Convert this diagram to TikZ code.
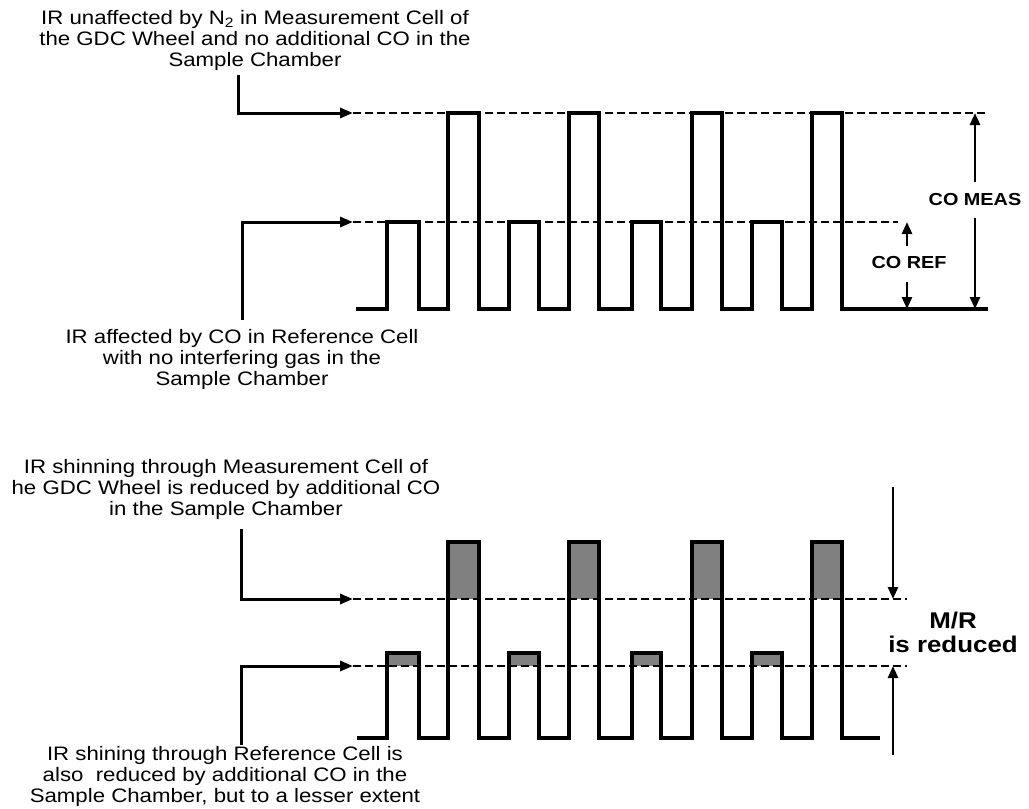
\documentclass[tikz,border=0pt]{standalone}
\usepackage{fontspec}
\setmainfont{Liberation Sans}[FakeStretch=1.14]
\usetikzlibrary{arrows.meta}
\begin{document}
\begin{tikzpicture}[x=1pt,y=-1pt,
  wave/.style={line width=3.6pt},
  guide/.style={line width=2.4pt, dash pattern=on 7.5pt off 4.5pt},
  lead/.style={line width=3pt, -{Triangle[length=13pt,width=10pt]}},
  dim/.style={line width=2.6pt, -{Triangle[length=12pt,width=10pt]}},
  note/.style={align=center, inner sep=0pt, anchor=north, font=\fontsize{19.5}{21}\selectfont},
  tag/.style={inner sep=0pt, font=\fontsize{17.4}{20}\selectfont\bfseries},
  bigtag/.style={align=center, inner sep=0pt, font=\fontsize{22.7}{24}\selectfont\bfseries},
  loss/.style={fill=gray, draw=none}]
\useasboundingbox (0,0) rectangle (1029,809);
\fill[white] (0,0) rectangle (1029,809);

% ---------------- upper panel: no CO in the sample chamber ----------------
\node[note] (n1) at (255,10) {IR unaffected by N\textsubscript{2} in Measurement Cell of\\the GDC Wheel and no additional CO in the\\Sample Chamber};
\node[note] (n2) at (242,329) {IR affected by CO in Reference Cell\\with no interfering gas in the\\Sample Chamber};

\coordinate (a1s) at (238,75);   \coordinate (a1t) at (353,113);
\coordinate (a2s) at (242,320);  \coordinate (a2t) at (353,222);
\coordinate (g1e) at (988,113);  \coordinate (g2e) at (898,222);

\draw[guide] (a1t) -- (g1e);
\draw[guide] (a2t) -- (g2e);
\draw[lead] (a1s) |- (a1t);
\draw[lead] (a2s) |- (a2t);

\draw[wave] (356,309) -| (387,222) -| (419,309) -| (448,113) -| (479,309)
  -| (509,222) -| (539,309) -| (569,113) -| (599,309)
  -| (632,222) -| (661,309) -| (692,113) -| (722,309)
  -| (752,222) -| (782,309) -| (812,113) -| (842,309) -- (988,309);

\node[tag] (meas) at (975,200) {CO MEAS};
\node[tag] (ref) at (909,263) {CO REF};
\coordinate (m1) at (975,182); \coordinate (m2) at (975,218); \coordinate (mb) at (975,309);
\coordinate (r1) at (907,246); \coordinate (r2) at (907,282); \coordinate (rb) at (907,309);
\draw[dim] (m1) -- (g1e -| m1);
\draw[dim] (m2) -- (mb);
\draw[dim] (r1) -- (g2e -| r1);
\draw[dim] (r2) -- (rb);

% ---------------- lower panel: additional CO in the sample chamber ----------------
\node[note] (n3) at (226,459) {IR shinning through Measurement Cell of\\he GDC Wheel is reduced by additional CO\\in the Sample Chamber};
\node[note] (n4) at (225,746) {IR shining through Reference Cell is\\also\ \ reduced by additional CO in the\\Sample Chamber, but to a lesser extent};

\foreach \x in {448,569,692,812} \fill[loss] (\x,542) rectangle ++(31,57);
\foreach \x in {387,509,632,752} \fill[loss] (\x,653) rectangle ++(31,13);

\coordinate (b1s) at (241,529);  \coordinate (b1t) at (353,599);
\coordinate (b2s) at (241,745);  \coordinate (b2t) at (353,666);
\coordinate (h1e) at (907,599);  \coordinate (h2e) at (907,666);

\draw[guide] (b1t) -- (h1e);
\draw[guide] (b2t) -- (h2e);
\draw[lead] (b1s) |- (b1t);
\draw[lead] (b2s) |- (b2t);

\draw[wave] (357,738) -| (387,653) -| (419,738) -| (448,542) -| (479,738)
  -| (509,653) -| (539,738) -| (569,542) -| (599,738)
  -| (632,653) -| (661,738) -| (692,542) -| (722,738)
  -| (752,653) -| (782,738) -| (812,542) -| (842,738) -- (880,738);

\node[bigtag] (mr) at (953,632) {M/R\\is reduced};
\coordinate (d1) at (893,487); \coordinate (d2) at (893,755);
\draw[dim] (d1) -- (h1e -| d1);
\draw[dim] (d2) -- (h2e -| d2);
\end{tikzpicture}
\end{document}
